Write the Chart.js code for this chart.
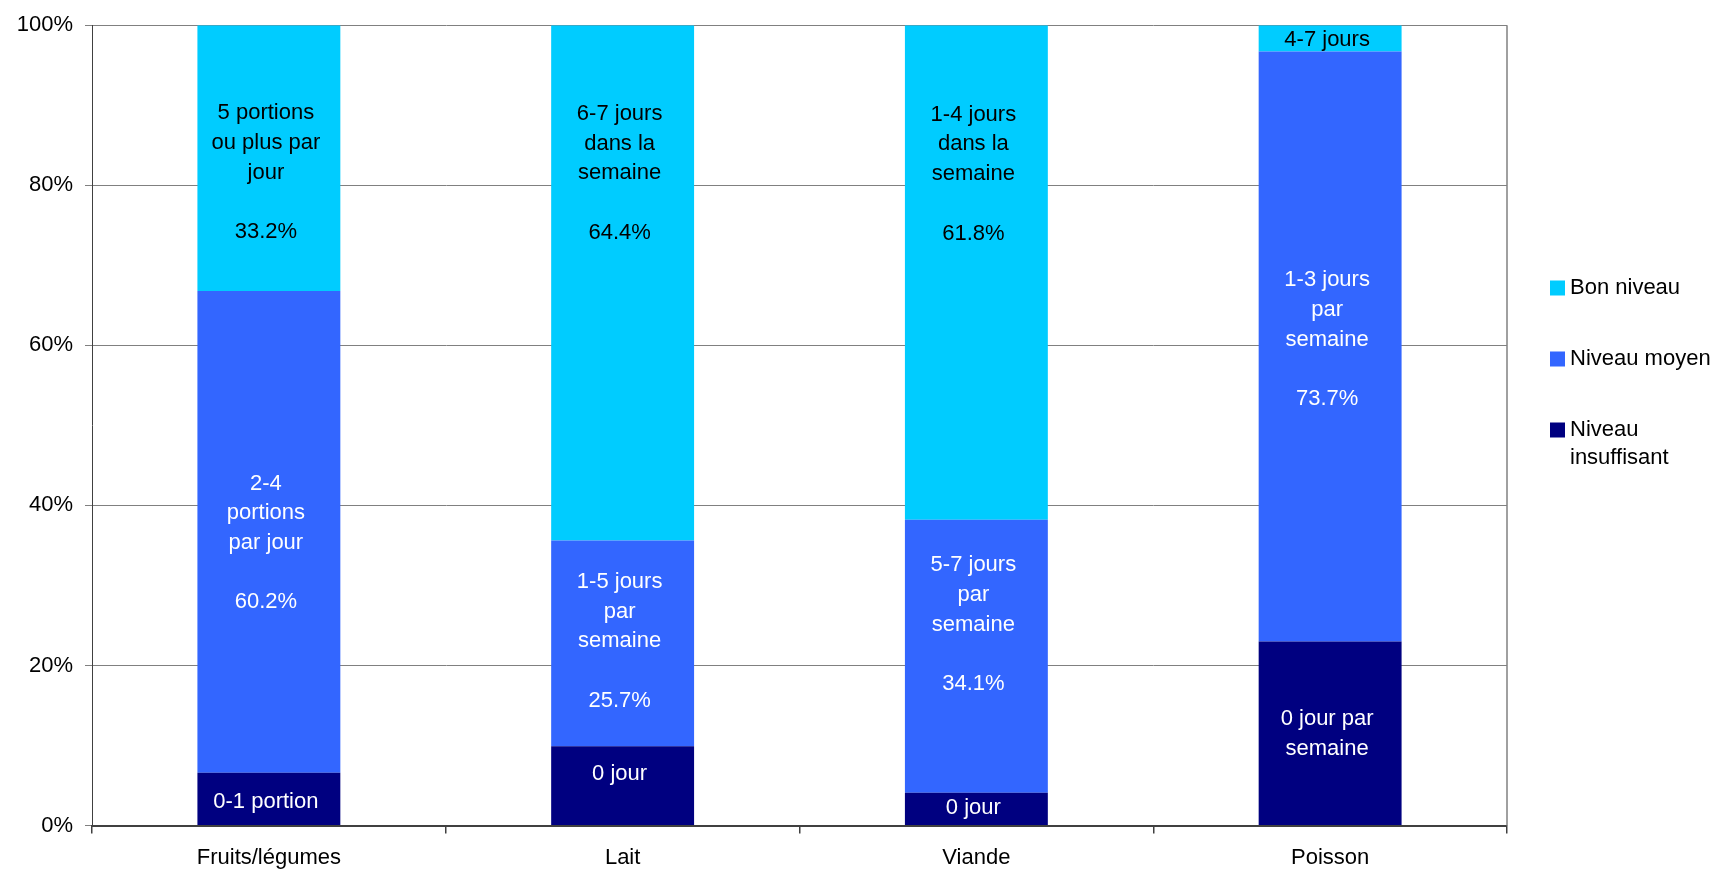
<!DOCTYPE html>
<html>
<head>
<meta charset="utf-8">
<script src="https://cdn.jsdelivr.net/npm/chart.js@4/dist/chart.umd.min.js"></script>
<style>
  body { margin: 0; background: #fff; }
  #wrap { width: 1724px; height: 871px; position: relative; }
</style>
</head>
<body>
<div id="wrap"><canvas id="chart"></canvas></div>
<script>
const categories = ['Fruits/légumes', 'Lait', 'Viande', 'Poisson']
const lowValues = [6.6, 9.9, 4.1, 23.0]
const midValues = [60.2, 25.7, 34.1, 73.7]
const goodValues = [33.2, 64.4, 61.8, 3.3]
const yTicks = [0, 20, 40, 60, 80, 100]

// texts written inside the segments
const lowText = ['0-1 portion', '0 jour', '0 jour', '0 jour par\nsemaine']
const midText = ['2-4\nportions\npar jour', '1-5 jours\npar\nsemaine', '5-7 jours\npar\nsemaine', '1-3 jours\npar\nsemaine']
const goodText = ['5 portions\nou plus par\njour', '6-7 jours\ndans la\nsemaine', '1-4 jours\ndans la\nsemaine', '4-7 jours']
const lowPct = [false, false, false, false]
const midPct = [true, true, true, true]
const goodPct = [true, true, true, false]
// value (in %) where each text block is centred
const lowAt = [3.0, 6.4, 2.2, 11.4]
const midAt = [35.3, 23.0, 25.1, 60.7]
const goodAt = [81.6, 81.5, 81.4, 98.1]

const FONT = '"Liberation Sans", Arial, sans-serif'

const series = [
  { label: 'Niveau insuffisant', data: lowValues, color: '#000080', text: lowText, pct: lowPct, at: lowAt, ink: '#ffffff' },
  { label: 'Niveau moyen', data: midValues, color: '#3366FF', text: midText, pct: midPct, at: midAt, ink: '#ffffff' },
  { label: 'Bon niveau', data: goodValues, color: '#00CCFF', text: goodText, pct: goodPct, at: goodAt, ink: '#000000' }
]

const segmentLabels = {
  id: 'segmentLabels',
  afterDatasetsDraw(chart) {
    const ctx = chart.ctx
    const y = chart.scales.y
    ctx.save()
    ctx.font = '22px ' + FONT
    ctx.textAlign = 'center'
    ctx.textBaseline = 'middle'
    series.forEach((s, i) => {
      chart.getDatasetMeta(i).data.forEach((bar, j) => {
        let lines = s.text[j].split('\n')
        if (s.pct[j]) lines = lines.concat(['', s.data[j].toFixed(1) + '%'])
        const lh = 29.7
        const cy = y.getPixelForValue(s.at[j])
        ctx.fillStyle = s.ink
        lines.forEach((t, k) => {
          ctx.fillText(t, bar.x - 3, cy + (k - (lines.length - 1) / 2) * lh)
        })
      })
    })
    ctx.restore()
  }
}

const frame = {
  id: 'frame',
  afterDatasetsDraw(chart) {
    const a = chart.chartArea
    const ctx = chart.ctx
    ctx.save()
    ctx.strokeStyle = '#808080'
    ctx.lineWidth = 1.5
    ctx.beginPath()
    ctx.moveTo(a.right, a.top)
    ctx.lineTo(a.right, a.bottom)
    ctx.stroke()
    ctx.restore()
  }
}

const sideLegend = {
  id: 'sideLegend',
  afterDraw(chart) {
    const ctx = chart.ctx
    ctx.save()
    ctx.font = '22px ' + FONT
    ctx.textBaseline = 'middle'
    ctx.textAlign = 'left'
    const x = 1550
    let cy = 288
    series.slice().reverse().forEach(s => {
      const lines = s.label === 'Niveau insuffisant' ? ['Niveau', 'insuffisant'] : [s.label]
      ctx.fillStyle = s.color
      ctx.fillRect(x, cy - 7.5, 15, 15)
      ctx.fillStyle = '#000'
      lines.forEach((t, k) => ctx.fillText(t, x + 20, cy + k * 27.5))
      cy += 71
    })
    ctx.restore()
  }
}

new Chart(document.getElementById('chart'), {
  type: 'bar',
  data: {
    labels: categories,
    datasets: series.map(s => ({
      label: s.label,
      data: s.data,
      backgroundColor: s.color,
      borderWidth: 0,
      categoryPercentage: 1,
      barPercentage: 0.404
    }))
  },
  options: {
    responsive: true,
    maintainAspectRatio: false,
    animation: false,
    layout: { padding: { top: 16, right: 217, left: 0, bottom: 0 } },
    plugins: { legend: { display: false }, tooltip: { enabled: false } },
    scales: {
      x: {
        stacked: true,
        afterFit(scale) { scale.height = 45.5 },
        grid: { display: true, drawOnChartArea: false, offset: true, tickLength: 8, color: '#404040', lineWidth: 1.5 },
        border: { color: '#404040', width: 2 },
        ticks: { color: '#000', padding: 11, font: { family: FONT, size: 22 } }
      },
      y: {
        stacked: true,
        min: 0,
        max: 100,
        afterFit(scale) { scale.width = 92 },
        afterBuildTicks(scale) { scale.ticks = yTicks.map(v => ({ value: v })) },
        grid: { color: '#808080', lineWidth: 1, tickLength: 7 },
        border: { color: '#404040', width: 1 },
        ticks: { color: '#000', padding: 12, font: { family: FONT, size: 22 }, callback: v => v + '%' }
      }
    }
  },
  plugins: [segmentLabels, frame, sideLegend]
})
</script>
</body>
</html>
